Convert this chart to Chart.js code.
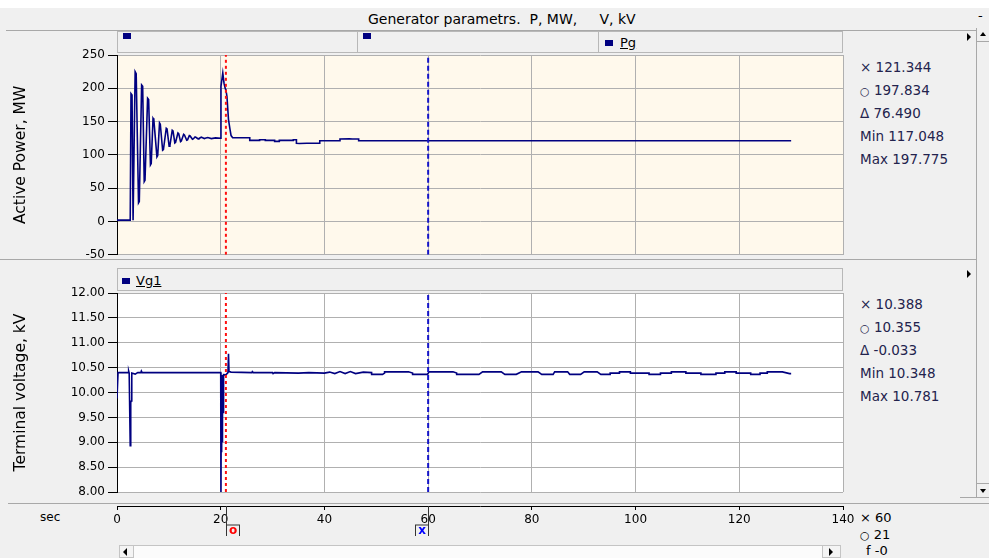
<!DOCTYPE html>
<html>
<head>
<meta charset="utf-8">
<script src="https://cdn.jsdelivr.net/npm/chart.js@4.4.1/dist/chart.umd.min.js"></script>
<style>
  body { margin: 0; width: 989px; height: 558px; overflow: hidden; position: relative;
         background: #f0f0f0; font-family: "DejaVu Sans", Verdana, sans-serif; color: #000; }
  .abs { position: absolute; }
  .txt { position: absolute; font-size: 13px; line-height: 16px; white-space: pre; }
  .stat { position: absolute; left: 860px; font-size: 13.5px; line-height: 16px; color: #23234d; white-space: pre; }
  .sym { font-size: 11px; }
  .bar { position: absolute; box-sizing: border-box; background: #f0f0f0; border: 1px solid #b8b8b8; }
  .sq { position: absolute; width: 8px; height: 6px; background: #000080; }
  .tri { position: absolute; width: 0; height: 0; border-top: 4px solid transparent;
         border-bottom: 4px solid transparent; border-left: 4px solid #000; }
  .hline { position: absolute; height: 1px; background: #a8a8a8; }
  .vline { position: absolute; width: 1px; background: #b8b8b8; }
  canvas { position: absolute; }
</style>
</head>
<body>

<div class="abs" style="left:0;top:0;width:989px;height:8px;background:#fff"></div>
<div class="txt" style="left:368px;top:11px;font-size:14px">Generator parametrs.  P, MW,     V, kV</div>
<div class="txt" style="left:978px;top:8px">-</div>
<div class="hline" style="left:6px;top:30px;width:970px"></div>

<!-- legend strip, power panel -->
<div class="bar" style="left:117px;top:31px;width:726px;height:22px"></div>
<div class="vline" style="left:357px;top:31px;height:22px"></div>
<div class="vline" style="left:598px;top:31px;height:22px"></div>
<div class="sq" style="left:123px;top:33px"></div>
<div class="sq" style="left:363px;top:33px"></div>
<div class="sq" style="left:605px;top:40px"></div>
<div class="txt" style="left:620px;top:35px;text-decoration:underline">Pg</div>
<div class="tri" style="left:967px;top:33px"></div>

<div class="hline" style="left:0;top:259px;width:976px"></div>

<!-- legend strip, voltage panel -->
<div class="bar" style="left:117px;top:268px;width:726px;height:23px"></div>
<div class="sq" style="left:122px;top:278px"></div>
<div class="txt" style="left:136px;top:273px;text-decoration:underline">Vg1</div>
<div class="tri" style="left:967px;top:270px"></div>

<div class="hline" style="left:8px;top:503px;width:981px"></div>

<!-- right scroll strip -->
<div class="abs" style="left:976px;top:28px;width:13px;height:470px;border-left:1px solid #a8a8a8;box-sizing:border-box"></div>
<div class="hline" style="left:977px;top:41px;width:12px"></div>
<div class="hline" style="left:977px;top:483px;width:12px"></div>
<div class="abs" style="left:980px;top:32px;width:0;height:0;border-left:3px solid transparent;border-right:3px solid transparent;border-bottom:4px solid #000"></div>
<div class="abs" style="left:980px;top:489px;width:0;height:0;border-left:3px solid transparent;border-right:3px solid transparent;border-top:4px solid #000"></div>
<div class="hline" style="left:960px;top:497px;width:29px"></div>

<!-- bottom scroll strip -->
<div class="abs" style="left:119px;top:545px;width:722px;height:13px;background:#f4f4f4;border:1px solid #c4c4c4;box-sizing:border-box"></div>
<div class="abs" style="left:133px;top:546px;width:690px;height:12px;background:#fbfbfb;border-left:1px solid #c4c4c4;border-right:1px solid #c4c4c4;box-sizing:border-box"></div>
<div class="abs" style="left:123px;top:548px;width:0;height:0;border-top:4px solid transparent;border-bottom:4px solid transparent;border-right:4px solid #000"></div>
<div class="abs" style="left:829px;top:548px;width:0;height:0;border-top:4px solid transparent;border-bottom:4px solid transparent;border-left:4px solid #000"></div>

<div class="txt" style="left:40px;top:509px;font-size:12px">sec</div>

<div class="stat" style="top:59px">× 121.344</div>
<div class="stat" style="top:82px"><span class="sym">○</span> 197.834</div>
<div class="stat" style="top:105px">Δ 76.490</div>
<div class="stat" style="top:128px">Min 117.048</div>
<div class="stat" style="top:151px">Max 197.775</div>

<div class="stat" style="top:296px">× 10.388</div>
<div class="stat" style="top:319px"><span class="sym">○</span> 10.355</div>
<div class="stat" style="top:342px">Δ -0.033</div>
<div class="stat" style="top:365px">Min 10.348</div>
<div class="stat" style="top:388px">Max 10.781</div>

<div class="stat" style="top:510px;color:#000;font-size:13px">× 60</div>
<div class="stat" style="top:527px;color:#000;font-size:13px"><span class="sym">○</span> 21</div>
<div class="stat" style="top:543px;left:866px;color:#000;font-size:13px">f -0</div>

<canvas id="powerChart" style="left:0;top:40px" width="870" height="225"></canvas>
<canvas id="voltChart" style="left:0;top:280px" width="870" height="225"></canvas>
<canvas id="timeAxis" style="left:0;top:496px" width="870" height="40"></canvas>

<script>
Chart.defaults.font.family = '"DejaVu Sans", Verdana, sans-serif';
Chart.defaults.color = '#000';

const timeTicks = [0, 20, 40, 60, 80, 100, 120, 140];
const powerTicks = [-50, 0, 50, 100, 150, 200, 250];
const voltTicks = [8, 8.5, 9, 9.5, 10, 10.5, 11, 11.5, 12];
const cursorTimes = [21, 60];   // "o" cursor (red), "x" cursor (blue)

// Pg, MW
const powerTime = [
  0, 2.55, 2.7, 2.9, 3.1, 3.2, 3.5, 3.7, 4.15, 4.3,
  4.75, 4.95, 5.25, 5.4, 5.9, 6.1, 6.45, 6.6, 6.95, 7.1,
  7.7, 7.85, 8.2, 8.35, 8.8, 8.95, 9.5, 9.65, 10.05, 10.2,
  10.65, 10.8, 11.15, 11.3, 11.75, 11.9, 12.25, 12.4, 12.85, 13.0,
  13.45, 13.6, 13.95, 14.1, 14.55, 14.7, 15.05, 15.2, 15.65, 15.8,
  16.25, 16.4, 16.85, 17.0, 17.5, 18.2, 19.0, 20.0,
  20.05, 20.4, 20.65, 20.9, 21.0, 21.2, 21.5, 21.8, 22.0, 22.3,
  25.6, 25.6, 27.5, 27.5, 28.6, 28.6, 30.4, 30.4, 31.3, 31.3,
  34.0, 34.0, 34.6, 34.6, 35.2, 36.6, 39.1, 39.1, 43.0, 43.0,
  44.8, 45.4, 46.6, 46.6, 130
];
const powerMW = [
  2, 2, 192, 190, 2, 2, 225, 222, 28, 30,
  205, 203, 60, 62, 185, 183, 85, 87, 155, 153,
  97, 99, 148, 146, 107, 108, 140, 139, 113, 114,
  137, 136, 118, 119, 133, 132, 120, 121, 131, 130,
  122, 122.5, 129, 128.5, 123.5, 124, 127, 126.5, 124, 124.5,
  126.5, 126, 124.5, 125, 126, 124.5, 125.5, 125,
  203, 223, 207, 199, 197.8, 188, 153, 138, 129, 125.8,
  125.8, 121.8, 121.8, 122.8, 122.8, 121.8, 121.8, 120.3, 120.3, 121.8,
  121.8, 122.8, 122.8, 117.6, 117.05, 117.6, 117.6, 121.3, 121.3, 123.8,
  124.3, 123.8, 123.8, 121.34, 121.34
];

// Vg1, kV
const voltTime = [
  0, 0.15, 0.2, 2.2, 2.25, 2.35, 2.5, 2.55, 2.65, 2.75,
  2.85, 3.5, 4.0, 4.6, 4.7, 4.85, 20.0, 20.05, 20.12, 20.18,
  20.25, 20.3, 20.38, 20.45, 20.55, 21.0, 21.4, 21.5, 21.6, 22.0,
  26.0, 26.1, 26.3, 30.0, 30.1, 30.4, 35.0, 37.0, 40.0, 41.0,
  42.0, 43.0, 44.0, 45.0, 46.0, 47.5, 49.1, 49.1, 51.2, 51.6,
  51.6, 56.2, 57.0, 57.0, 59.8, 60.0, 60.2, 64.8, 65.5, 65.5,
  69.8, 70.5, 74.1, 74.8, 77.0, 78.0, 81.2, 81.9, 84.1, 84.4,
  86.9, 87.3, 89.4, 90.1, 92.6, 93.3, 95.1, 95.1, 96.9, 96.9,
  99.0, 99.0, 102.6, 102.6, 104.8, 104.8, 106.9, 106.9, 109.7, 109.7,
  112.6, 112.6, 115.5, 115.5, 117.2, 117.2, 119.4, 119.4, 122.2, 122.2,
  124.0, 124.0, 125.4, 125.4, 128.3, 129.7, 130.0
];
const voltKV = [
  9.88, 9.88, 10.40, 10.40, 10.43, 10.39, 10.39, 8.93, 9.80, 9.83,
  10.39, 10.37, 10.40, 10.40, 10.43, 10.40, 10.40, 8.00, 10.25, 8.80,
  10.30, 9.00, 10.35, 9.60, 10.36, 10.355, 10.40, 10.78, 10.42, 10.41,
  10.40, 10.42, 10.40, 10.40, 10.38, 10.40, 10.39, 10.40, 10.39, 10.41,
  10.38, 10.42, 10.38, 10.42, 10.38, 10.41, 10.40, 10.365, 10.365, 10.39,
  10.415, 10.415, 10.39, 10.365, 10.365, 10.388, 10.415, 10.415, 10.39, 10.365,
  10.365, 10.415, 10.415, 10.365, 10.365, 10.415, 10.415, 10.365, 10.365, 10.415,
  10.415, 10.365, 10.365, 10.415, 10.415, 10.365, 10.365, 10.39, 10.39, 10.415,
  10.415, 10.39, 10.39, 10.365, 10.365, 10.39, 10.39, 10.415, 10.415, 10.39,
  10.39, 10.365, 10.365, 10.39, 10.39, 10.415, 10.415, 10.39, 10.39, 10.365,
  10.365, 10.39, 10.39, 10.415, 10.415, 10.38, 10.38
];

const GRID = '#b0b0b0';
const TRACE = '#000080';

function series(xs, ys) {
  return xs.map((x, i) => ({ x: x, y: ys[i] }));
}

// vertical cursor through the whole panel
function cursorLine(t, ticks, color, dash) {
  return {
    data: [{ x: t, y: ticks[0] }, { x: t, y: ticks[ticks.length - 1] }],
    borderColor: color, borderWidth: 2, borderDash: dash, pointRadius: 0
  };
}

const plotBg = {
  id: 'plotBg',
  beforeDraw(chart, args, opts) {
    const a = chart.chartArea;
    const ctx = chart.ctx;
    ctx.save();
    ctx.fillStyle = opts.color;
    ctx.fillRect(a.left, a.top, a.right - a.left, a.bottom - a.top);
    ctx.restore();
  }
};

function panelChart(id, ticks, title, fmt, time, values, bg, pad) {
  return new Chart(document.getElementById(id), {
    type: 'line',
    data: {
      datasets: [
        cursorLine(cursorTimes[0], ticks, '#ff1010', [3, 3]),
        cursorLine(cursorTimes[1], ticks, '#1414c8', [5, 3]),
        { data: series(time, values), borderColor: TRACE, borderWidth: 1.6, pointRadius: 0, tension: 0 }
      ]
    },
    options: {
      responsive: false,
      animation: false,
      events: [],
      layout: { padding: pad },
      plugins: { legend: { display: false }, tooltip: { enabled: false }, plotBg: { color: bg } },
      scales: {
        x: {
          type: 'linear', min: timeTicks[0], max: timeTicks[timeTicks.length - 1],
          afterBuildTicks: s => { s.ticks = timeTicks.map(v => ({ value: v })); },
          afterFit: s => { s.height = 0; },
          ticks: { display: false },
          grid: { color: c => (c.tick && c.tick.value === 0 ? 'rgba(0,0,0,0)' : GRID), drawTicks: false },
          border: { display: false }
        },
        y: {
          min: ticks[0], max: ticks[ticks.length - 1],
          afterBuildTicks: s => { s.ticks = ticks.map(v => ({ value: v })); },
          afterFit: s => { s.width = 117; },
          ticks: { font: { size: 12 }, padding: 3, callback: fmt },
          grid: { color: GRID, tickColor: '#000', tickLength: 9 },
          border: { color: '#000' },
          title: { display: true, text: title, font: { size: 15.5 }, padding: { top: 12, bottom: 0 } }
        }
      }
    },
    plugins: [plotBg]
  });
}

panelChart('powerChart', powerTicks, 'Active Power, MW', v => String(v),
  powerTime, powerMW, '#fff9ec', { top: 15, bottom: 10, left: 0, right: 27 });
panelChart('voltChart', voltTicks, 'Terminal voltage, kV', v => v.toFixed(2),
  voltTime, voltKV, '#ffffff', { top: 13, bottom: 13, left: 0, right: 27 });

// cursor flags hanging under the time axis
const cursorFlags = {
  id: 'cursorFlags',
  afterDraw(chart) {
    const ctx = chart.ctx;
    const sx = chart.scales.x;
    const y0 = chart.chartArea.bottom;
    const marks = [{ sym: 'o', color: '#ff0000', side: 1 }, { sym: 'x', color: '#0000ff', side: -1 }];
    cursorTimes.forEach((t, i) => {
      const m = marks[i];
      const x = Math.round(sx.getPixelForValue(t)) + 0.5;
      const bx = m.side > 0 ? x : x - 13;
      ctx.save();
      ctx.strokeStyle = '#333';
      ctx.lineWidth = 1;
      ctx.beginPath();
      ctx.moveTo(x, y0);
      ctx.lineTo(x, y0 + 19);
      ctx.stroke();
      ctx.fillStyle = '#f0f0f0';
      ctx.fillRect(bx, y0 + 19, 13, 13);
      ctx.strokeRect(bx, y0 + 19, 13, 13);
      ctx.fillStyle = m.color;
      ctx.font = 'bold 12px "DejaVu Sans", Verdana, sans-serif';
      ctx.textAlign = 'center';
      ctx.textBaseline = 'middle';
      ctx.fillText(m.sym, bx + 6.5, y0 + 25);
      ctx.restore();
    });
  }
};

new Chart(document.getElementById('timeAxis'), {
  type: 'line',
  data: { datasets: [] },
  options: {
    responsive: false,
    animation: false,
    events: [],
    layout: { padding: { top: 4, bottom: 0, left: 117, right: 27 } },
    plugins: { legend: { display: false }, tooltip: { enabled: false } },
    scales: {
      x: {
        type: 'linear', min: timeTicks[0], max: timeTicks[timeTicks.length - 1],
        afterBuildTicks: s => { s.ticks = timeTicks.map(v => ({ value: v })); },
        afterFit: s => { s.height = 30; },
        ticks: { font: { size: 12 }, padding: 3, maxRotation: 0 },
        grid: { drawOnChartArea: false, tickColor: '#000', tickLength: 4 },
        border: { color: '#000' }
      },
      y: { display: false, min: 0, max: 1 }
    }
  },
  plugins: [cursorFlags]
});
</script>
</body>
</html>
